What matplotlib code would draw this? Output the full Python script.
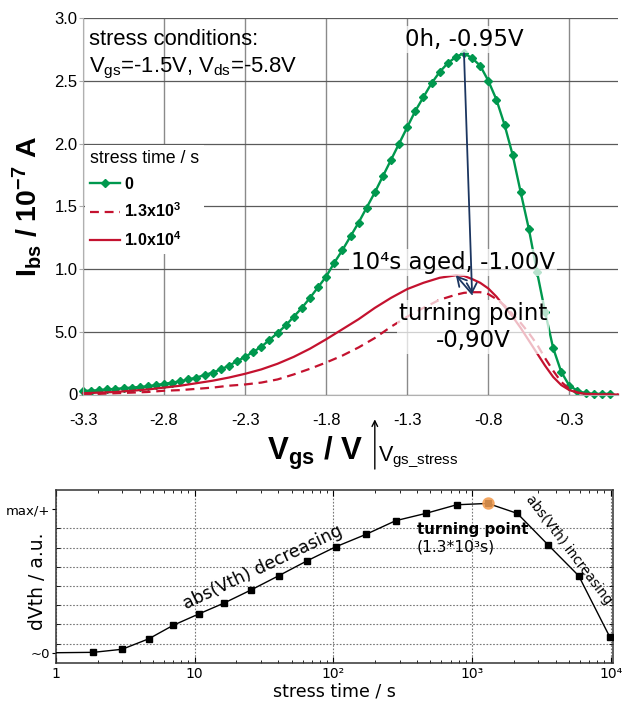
import matplotlib
matplotlib.use("Agg")
import matplotlib.pyplot as plt
import numpy as np
from matplotlib.lines import Line2D
from matplotlib.ticker import FixedLocator, NullFormatter

plt.rcParams["axes.unicode_minus"] = False
plt.rcParams["mathtext.fontset"] = "custom"
plt.rcParams["mathtext.rm"] = "Liberation Sans"
plt.rcParams["mathtext.it"] = "Liberation Sans:italic"
plt.rcParams["mathtext.bf"] = "Liberation Sans:bold"

# ---------------- body current Ibs(Vgs) ----------------
vgs_fresh = [-3.30, -3.25, -3.20, -3.15, -3.10, -3.05, -3.00, -2.95, -2.90, -2.85,
             -2.80, -2.75, -2.70, -2.65, -2.60, -2.55, -2.50, -2.45, -2.40, -2.35,
             -2.30, -2.25, -2.20, -2.15, -2.10, -2.05, -2.00, -1.95, -1.90, -1.85,
             -1.80, -1.75, -1.70, -1.65, -1.60, -1.55, -1.50, -1.45, -1.40, -1.35,
             -1.30, -1.25, -1.20, -1.15, -1.10, -1.05, -1.00, -0.95, -0.90, -0.85,
             -0.80, -0.75, -0.70, -0.65, -0.60, -0.55, -0.50, -0.45, -0.40, -0.35,
             -0.30, -0.25, -0.20, -0.15, -0.10, -0.05]
ibs_fresh = [0.03, 0.03, 0.035, 0.04, 0.045, 0.05, 0.055, 0.06, 0.065, 0.075,
             0.085, 0.095, 0.105, 0.12, 0.135, 0.155, 0.175, 0.20, 0.23, 0.265,
             0.30, 0.34, 0.38, 0.435, 0.49, 0.55, 0.62, 0.69, 0.77, 0.855,
             0.94, 1.05, 1.15, 1.26, 1.37, 1.49, 1.61, 1.74, 1.87, 2.00,
             2.13, 2.26, 2.37, 2.48, 2.57, 2.64, 2.69, 2.72, 2.68, 2.62,
             2.50, 2.35, 2.15, 1.91, 1.61, 1.32, 0.98, 0.66, 0.37, 0.18,
             0.07, 0.03, 0.01, 0.005, 0.005, 0.005]

vgs_aged = [-3.3, -3.2, -3.1, -3.0, -2.9, -2.8, -2.7, -2.6, -2.5, -2.4,
            -2.3, -2.2, -2.1, -2.0, -1.9, -1.8, -1.7, -1.6, -1.5, -1.4,
            -1.3, -1.2, -1.1, -1.0, -0.95, -0.9, -0.85, -0.8, -0.75, -0.7,
            -0.65, -0.6, -0.55, -0.5, -0.45, -0.4, -0.35, -0.3, -0.25, -0.2,
            -0.1, 0.0]
ibs_1p3e3 = [0.0, 0.005, 0.01, 0.015, 0.02, 0.03, 0.035, 0.045, 0.055, 0.07,
             0.08, 0.095, 0.12, 0.16, 0.205, 0.255, 0.31, 0.375, 0.45, 0.54,
             0.62, 0.69, 0.755, 0.795, 0.81, 0.815, 0.815, 0.80, 0.76, 0.71,
             0.64, 0.57, 0.49, 0.40, 0.29, 0.19, 0.10, 0.045, 0.015, 0.005,
             0.0, 0.0]
ibs_1e4 = [0.01, 0.015, 0.02, 0.03, 0.04, 0.055, 0.07, 0.09, 0.11, 0.135,
           0.165, 0.20, 0.245, 0.30, 0.365, 0.44, 0.52, 0.60, 0.69, 0.77,
           0.84, 0.89, 0.93, 0.95, 0.945, 0.92, 0.89, 0.845, 0.78, 0.70,
           0.62, 0.53, 0.43, 0.33, 0.23, 0.14, 0.075, 0.035, 0.015, 0.005,
           0.0, 0.0]

xticks_top = [-3.3, -2.8, -2.3, -1.8, -1.3, -0.8, -0.3]
xticklabels_top = ["-3.3", "-2.8", "-2.3", "-1.8", "-1.3", "-0.8", "-0.3"]
yticks_top = [0, 0.5, 1.0, 1.5, 2.0, 2.5, 3.0]
yticklabels_top = ["0", "5.0", "1.0", "1.5", "2.0", "2.5", "3.0"]
vgs_stress = -1.5

# ---------------- threshold shift vs stress time ----------------
stress_t = [1, 1.86, 3.0, 4.68, 7.0, 10.7, 16.3, 25.3, 40.3, 64.2,
            104, 172, 281, 463, 774, 1300, 2118, 3542, 5867, 9820]
dvth = [0.52, 0.54, 0.70, 1.25, 1.95, 2.54, 3.11, 3.78, 4.53, 5.30,
        6.04, 6.69, 7.40, 7.78, 8.23, 8.30, 7.78, 6.13, 4.53, 1.35]
xticks_bot = [1, 10, 100, 1000, 10000]
xticklabels_bot = ["1", "10", "10²", "10³", "10⁴"]
yticks_bot = [0.5, 8]
yticklabels_bot = ["~0", "max/+"]
ygrid_bot = [1, 2, 3, 4, 5, 6, 7, 8]

GREEN = "#00984e"
RED = "#c4122f"
NAVY = "#1b3560"
SANS = "Liberation Sans"

W, H = 634, 702
fig = plt.figure(figsize=(W / 100, H / 100), dpi=100)
ax = fig.add_axes([83 / W, 1 - 394.5 / H, 535 / W, 376.5 / H])
ax2 = fig.add_axes([56 / W, 1 - 662.7 / H, 556.7 / W, 172.7 / H])

# ---- top panel ----
ax.plot(vgs_fresh, ibs_fresh, color=GREEN, lw=1.7, marker="D", ms=4.2,
        clip_on=False, zorder=2)
ax.plot(vgs_aged, ibs_1p3e3, color=RED, lw=1.6, ls=(0, (4, 2.6)),
        clip_on=False, zorder=2)
ax.plot(vgs_aged, ibs_1e4, color=RED, lw=1.6, clip_on=False, zorder=2)

ax.set_xlim(-3.3, 0.0)
ax.set_ylim(0, 3.0)
ax.set_xticks(xticks_top)
ax.set_xticklabels(xticklabels_top, family=SANS, fontsize=12)
ax.set_yticks(yticks_top)
ax.set_yticklabels(yticklabels_top, family=SANS, fontsize=12)
ax.tick_params(axis="x", length=0, pad=13)
ax.tick_params(axis="y", length=3, direction="out", color="#aaaaaa", pad=1)
ax.xaxis.grid(True, color="#8a8a8a", lw=1.0)
ax.yaxis.grid(True, color="#5a5a5a", lw=0.9)
ax.set_axisbelow(True)
for s in ("top", "right"):
    ax.spines[s].set_visible(False)
for s in ("left", "bottom"):
    ax.spines[s].set_color("#b0b0b0")

ax.text(6 / 535, (394.5 - 45) / 376.5, "stress conditions:", transform=ax.transAxes,
        family=SANS, fontsize=15.8, va="baseline", ha="left")
ax.text(6 / 535, (394.5 - 72.7) / 376.5,
        r"V$_{\mathrm{gs}}$=-1.5V, V$_{\mathrm{ds}}$=-5.8V", transform=ax.transAxes,
        family=SANS, fontsize=15.8, va="baseline", ha="left")

handles = [Line2D([], [], color=GREEN, lw=1.7, marker="D", ms=4.2),
           Line2D([], [], color=RED, lw=1.6, ls=(0, (4, 2.6))),
           Line2D([], [], color=RED, lw=1.6)]
labels = ["0", r"1.3x10$^{\mathbf{3}}$", r"1.0x10$^{\mathbf{4}}$"]
leg = ax.legend(handles, labels, title="stress time / s", loc="upper left",
                bbox_to_anchor=(0.004, 0.663), borderaxespad=0, frameon=True,
                facecolor="white", edgecolor="none", framealpha=1, fancybox=False,
                borderpad=0.3, handlelength=1.9, handletextpad=0.25,
                labelspacing=0.62, numpoints=1, alignment="left",
                prop=dict(family=SANS, weight="bold", size=11.5),
                title_fontproperties=dict(family=SANS, size=12.8))

ax.set_ylabel(r"$\mathbf{I_{bs}\ /\ 10^{-7}\ A}$", fontsize=20.5)
ax.yaxis.set_label_coords(-0.072, 0.5)
ax.set_xlabel(r"$\mathbf{V_{gs}\ /\ V}$", fontsize=22.5)
ax.xaxis.set_label_coords(0.4336, -0.108)

# stress voltage marker below the axis
ax.annotate("", xy=(vgs_stress, -0.066), xytext=(vgs_stress, -0.198),
            xycoords=ax.get_xaxis_transform(), textcoords=ax.get_xaxis_transform(),
            arrowprops=dict(arrowstyle="->", color="black", lw=1.0,
                            shrinkA=0, shrinkB=0, mutation_scale=10),
            annotation_clip=False)
ax.text(vgs_stress + 0.022, -0.1785, r"V$_{\mathrm{gs\_stress}}$",
        transform=ax.get_xaxis_transform(), family=SANS, fontsize=15.5,
        ha="left", va="baseline")

# peak annotations
i0 = int(np.argmax(ibs_fresh))
i3 = int(np.argmax(ibs_1p3e3))
i4 = int(np.argmax(ibs_1e4))
p0 = (vgs_fresh[i0], ibs_fresh[i0])
p3 = (vgs_aged[i3], ibs_1p3e3[i3] - 0.015)
p4 = (vgs_aged[i4], ibs_1e4[i4])

box = dict(facecolor="white", edgecolor="none", alpha=0.72, pad=1.5)
ax.text(p0[0], 2.774, "0h, -0.95V", ha="center", va="baseline", fontsize=16.5,
        bbox=box, zorder=3)
ax.text(-1.02, 1.0, "10⁴s aged, -1.00V", ha="center", va="baseline",
        fontsize=16.5, bbox=box, zorder=3)
ax.text(-0.895, 0.381, "turning point\n-0,90V", ha="center", va="baseline",
        fontsize=16.5, linespacing=1.2, bbox=box, zorder=3, multialignment="center")

arrow_kw = dict(arrowstyle="->,head_length=0.55,head_width=0.3", color=NAVY,
                lw=1.3, shrinkA=0, shrinkB=0, mutation_scale=12)
ax.annotate("", xy=p3, xytext=p0, arrowprops=arrow_kw, zorder=4)
ax.annotate("", xy=p4, xytext=p3, arrowprops=arrow_kw, zorder=4)

# ---- bottom panel ----
ax2.set_xscale("log")
ax2.plot(stress_t, dvth, color="black", lw=1.0, zorder=3)
ax2.plot(stress_t[1:], dvth[1:], ls="none", marker="s", ms=5, color="black", zorder=4)
itp = int(np.argmax(dvth))
ax2.plot([stress_t[itp]], [dvth[itp]], ls="none", marker="o", ms=8,
         color="#f4a055", alpha=0.85, zorder=5)

ax2.set_xlim(1, 1.032e4)
ax2.set_ylim(0, 9)
ax2.set_xticks(xticks_bot)
ax2.set_xticklabels(xticklabels_bot, fontsize=10)
ax2.xaxis.set_minor_locator(FixedLocator(
    [m * 10 ** d for d in range(4) for m in range(2, 10)]))
ax2.xaxis.set_minor_formatter(NullFormatter())
ax2.set_yticks(yticks_bot)
ax2.set_yticklabels(yticklabels_bot, fontsize=9.5)
ax2.yaxis.set_minor_locator(FixedLocator(ygrid_bot))
ax2.tick_params(axis="x", which="both", direction="in", top=True, pad=3)
ax2.tick_params(axis="x", which="major", length=4)
ax2.tick_params(axis="x", which="minor", length=2.5)
ax2.tick_params(axis="y", which="major", direction="out", length=3, pad=1)
ax2.tick_params(axis="y", which="minor", direction="in", length=3, right=True)
ax2.xaxis.grid(True, which="major", ls=(0, (1.5, 1.5)), color="#777777", lw=0.8)
ax2.yaxis.grid(True, which="minor", ls=(0, (1.5, 1.5)), color="#777777", lw=0.8)
for s in ax2.spines.values():
    s.set_color("#333333")
    s.set_linewidth(1.1)

ax2.set_ylabel("dVth / a.u.", fontsize=13.5)
ax2.yaxis.set_label_coords(-0.016, 0.473)
ax2.set_xlabel("stress time / s", fontsize=12.5)
ax2.xaxis.set_label_coords(0.5, -0.115)

ax2.text(31, 4.95, "abs(Vth) decreasing", fontsize=12.4, rotation=25.5,
         rotation_mode="anchor", ha="center", va="center", zorder=6)
ax2.text(5000, 5.9, "abs(Vth) increasing", fontsize=9.8, rotation=-52.7,
         rotation_mode="anchor", ha="center", va="center", zorder=6)
ax2.text(399, 6.70, "turning point", fontsize=10.8, weight="bold",
         ha="left", va="baseline", zorder=6)
ax2.text(399, 5.78, "(1.3*10³s)", fontsize=11.2, ha="left", va="baseline",
         zorder=6)

fig.savefig("out.png", dpi=100, facecolor="white")
